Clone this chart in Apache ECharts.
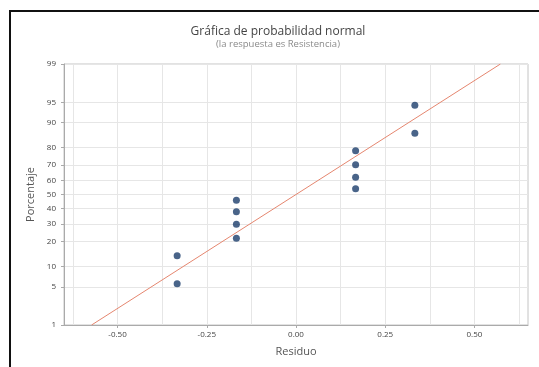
<!DOCTYPE html>
<html>
<head>
<meta charset="utf-8">
<script src="https://cdn.jsdelivr.net/npm/echarts@6/dist/echarts.min.js"></script>
<style>
  html, body { margin: 0; padding: 0; background: #fff; }
  #chart { width: 539px; height: 367px; }
</style>
</head>
<body>
<div id="chart"></div>
<script>
// Residuals (sorted) and their plotting percentages
const residuals = [-0.333, -0.333, -0.167, -0.167, -0.167, -0.167, 0.167, 0.167, 0.167, 0.167, 0.333, 0.333];
const percents  = [5.6, 13.7, 21.8, 29.8, 37.9, 46.0, 54.0, 62.1, 70.2, 78.2, 86.3, 94.4];

// Axis ticks
const yTickPercents = [1, 5, 10, 20, 30, 40, 50, 60, 70, 80, 90, 95, 99];
const xTickValues   = [-0.5, -0.25, 0, 0.25, 0.5];
const xGridValues   = [-0.625, -0.5, -0.375, -0.25, -0.125, 0, 0.125, 0.25, 0.375, 0.5, 0.625];

// Inverse standard normal CDF (Acklam) used for the probability scale
function normInv(p) {
  const a = [-3.969683028665376e+01, 2.209460984245205e+02, -2.759285104469687e+02, 1.383577518672690e+02, -3.066479806614716e+01, 2.506628277459239e+00];
  const b = [-5.447609879822406e+01, 1.615858368580409e+02, -1.556989798598866e+02, 6.680131188771972e+01, -1.328068155288572e+01];
  const c = [-7.784894002430293e-03, -3.223964580411365e-01, -2.400758277161838e+00, -2.549732539343734e+00, 4.374664141464968e+00, 2.938163982698783e+00];
  const d = [7.784695709041462e-03, 3.224671290700398e-01, 2.445134137142996e+00, 3.754408661907416e+00];
  const pl = 0.02425, ph = 1 - pl;
  let q, r;
  if (p < pl) {
    q = Math.sqrt(-2 * Math.log(p));
    return (((((c[0]*q+c[1])*q+c[2])*q+c[3])*q+c[4])*q+c[5]) / ((((d[0]*q+d[1])*q+d[2])*q+d[3])*q+1);
  } else if (p <= ph) {
    q = p - 0.5; r = q * q;
    return (((((a[0]*r+a[1])*r+a[2])*r+a[3])*r+a[4])*r+a[5])*q / (((((b[0]*r+b[1])*r+b[2])*r+b[3])*r+b[4])*r+1);
  } else {
    q = Math.sqrt(-2 * Math.log(1 - p));
    return -(((((c[0]*q+c[1])*q+c[2])*q+c[3])*q+c[4])*q+c[5]) / ((((d[0]*q+d[1])*q+d[2])*q+d[3])*q+1);
  }
}
const z = pct => normInv(pct / 100);

const yTickZ = yTickPercents.map(z);
const zMin = z(yTickPercents[0]);
const zMax = z(yTickPercents[yTickPercents.length - 1]);

// Fitted normal line from the residuals' mean and standard deviation
const n = residuals.length;
const mean = residuals.reduce((s, v) => s + v, 0) / n;
const sd = Math.sqrt(residuals.reduce((s, v) => s + (v - mean) * (v - mean), 0) / (n - 1));
const fitLine = [[mean + zMin * sd, zMin], [mean + zMax * sd, zMax]];

const points = residuals.map((r, i) => [r, z(percents[i])]);

const font = '"Open Sans", "Noto Sans", sans-serif';
const chart = echarts.init(document.getElementById('chart'), null, { renderer: 'canvas' });

chart.setOption({
  backgroundColor: '#ffffff',
  animation: false,
  title: {
    text: 'Gráfica de probabilidad normal',
    subtext: '(la respuesta es Resistencia)',
    left: 273,
    textAlign: 'center',
    top: 21,
    itemGap: 1,
    textStyle: { fontFamily: font, fontSize: 12, fontWeight: 500, color: '#444' },
    subtextStyle: { fontFamily: font, fontSize: 9.5, color: '#8a8a8a' }
  },
  graphic: [{
    type: 'rect',
    z: -10,
    shape: { x: 10, y: 11, width: 700, height: 600 },
    style: { fill: 'none', stroke: '#111', lineWidth: 2 }
  }],
  grid: {
    left: 64, right: 11, top: 64, bottom: 42,
    show: true, borderColor: '#c4c4c4', borderWidth: 1, backgroundColor: 'transparent'
  },
  xAxis: [{
    type: 'value',
    min: -0.65, max: 0.65,
    name: 'Residuo',
    nameLocation: 'middle',
    nameGap: 21,
    nameTextStyle: { fontFamily: font, fontSize: 11, color: '#555' },
    axisLine: { show: true, onZero: false, lineStyle: { color: '#aaaaaa' } },
    axisTick: { show: true, length: 3, customValues: xTickValues, lineStyle: { color: '#aaaaaa' } },
    axisLabel: {
      customValues: xTickValues,
      fontFamily: font, fontSize: 8, color: '#444', margin: 6,
      formatter: v => v.toFixed(2)
    },
    splitLine: { show: false }
  }, {
    type: 'value',
    min: -0.65, max: 0.65,
    position: 'bottom',
    axisLine: { show: false, onZero: false },
    axisTick: { show: false, customValues: xGridValues },
    axisLabel: { show: false },
    splitLine: { show: true, lineStyle: { color: '#e6e6e6', width: 1 } }
  }],
  yAxis: {
    type: 'value',
    min: zMin, max: zMax,
    name: 'Porcentaje',
    nameLocation: 'middle',
    nameGap: 23,
    nameTextStyle: { fontFamily: font, fontSize: 11, color: '#555' },
    axisLine: { show: true, onZero: false, lineStyle: { color: '#aaaaaa' } },
    axisTick: { show: true, length: 3, customValues: yTickZ, lineStyle: { color: '#aaaaaa' } },
    axisLabel: {
      customValues: yTickZ,
      fontFamily: font, fontSize: 8, color: '#444', margin: 8,
      formatter: v => {
        let best = 0;
        yTickZ.forEach((t, i) => { if (Math.abs(t - v) < Math.abs(yTickZ[best] - v)) best = i; });
        return String(yTickPercents[best]);
      }
    },
    splitLine: { show: true, lineStyle: { color: '#e6e6e6', width: 1 } }
  },
  series: [{
    type: 'line',
    data: fitLine,
    symbol: 'none',
    lineStyle: { color: '#e5866f', width: 1 },
    silent: true,
    z: 2
  }, {
    type: 'scatter',
    data: points,
    symbol: 'circle',
    symbolSize: 7,
    itemStyle: { color: '#1b3d6b' },
    z: 3
  }]
});
</script>
</body>
</html>
